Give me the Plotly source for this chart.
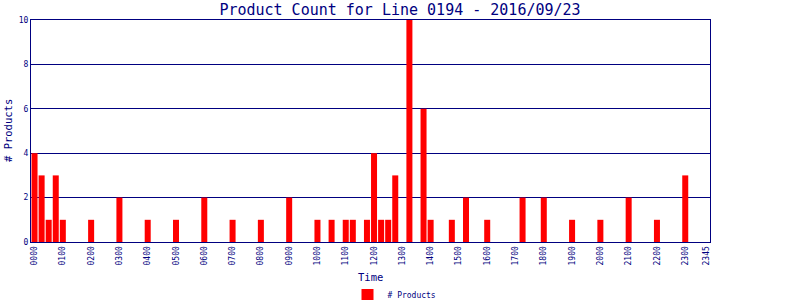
import plotly.graph_objects as go

# 15-minute time slots for the day
slots = [f"{h:02d}{m:02d}" for h in range(24) for m in (0, 15, 30, 45)]

# non-zero counts (slot label -> product count)
bar_times = ["0000", "0015", "0030", "0045", "0100", "0200", "0300", "0400", "0500",
             "0600", "0700", "0800", "0900", "1000", "1030", "1100", "1115", "1145",
             "1200", "1215", "1230", "1245", "1315", "1345", "1400", "1445", "1515",
             "1600", "1715", "1800", "1900", "2000", "2100", "2200", "2300"]
bar_counts = [4, 3, 1, 3, 1, 1, 2, 1, 1,
              2, 1, 1, 2, 1, 1, 1, 1, 1,
              4, 1, 1, 3, 10, 6, 1, 1, 2,
              1, 2, 2, 1, 1, 2, 1, 3]

tick_labels = [f"{h:02d}00" for h in range(24)] + ["2345"]
y_ticks = [0, 2, 4, 6, 8, 10]

lookup = dict(zip(bar_times, bar_counts))
counts = [lookup.get(s, 0) for s in slots]

NAVY = "#000080"
FONT = "DejaVu Sans Mono"

fig = go.Figure()
fig.add_trace(go.Bar(
    x=slots, y=counts, name="# Products",
    marker=dict(color="#ff0000", line=dict(width=0)),
    showlegend=True,
))

fig.update_layout(
    width=800, height=300,
    margin=dict(l=31, r=90, t=20, b=58, autoexpand=False),
    paper_bgcolor="white", plot_bgcolor="white",
    bargap=0.15,
    font=dict(family=FONT, color=NAVY, size=8),
    title=dict(text="Product Count for Line 0194 - 2016/09/23",
               x=0.5, xanchor="center", y=1 - 10 / 300, yanchor="middle",
               yref="container",
               font=dict(family=FONT, size=15, color=NAVY)),
    xaxis=dict(type="category", categoryorder="array", categoryarray=slots,
               tickmode="array", tickvals=tick_labels, ticktext=tick_labels,
               tickangle=-90, ticks="", showgrid=False, automargin=False,
               showline=True, linecolor=NAVY, linewidth=1, mirror=True,
               tickfont=dict(family=FONT, size=8, color=NAVY),
               range=[-0.5, len(slots) - 0.5]),
    yaxis=dict(range=[0, 10], tickvals=y_ticks, ticks="", automargin=False,
               showgrid=True, gridcolor=NAVY, gridwidth=1,
               showline=True, linecolor=NAVY, linewidth=1, mirror=True,
               zeroline=False,
               tickfont=dict(family=FONT, size=8, color=NAVY)),
    legend=dict(orientation="h", x=0.5 + 24 / 679, xanchor="center",
                yref="container", y=5 / 300, yanchor="middle",
                font=dict(family=FONT, size=8, color=NAVY)),
    annotations=[
        dict(text="Time", xref="paper", yref="paper", x=0.5, y=-35 / 222,
             xanchor="center", yanchor="middle", showarrow=False,
             font=dict(family=FONT, size=10.5, color=NAVY)),
        dict(text="# Products", xref="paper", yref="paper", x=-23 / 679, y=0.5,
             xanchor="center", yanchor="middle", textangle=-90, showarrow=False,
             font=dict(family=FONT, size=10.5, color=NAVY)),
    ],
)

fig.write_html("out.html")
